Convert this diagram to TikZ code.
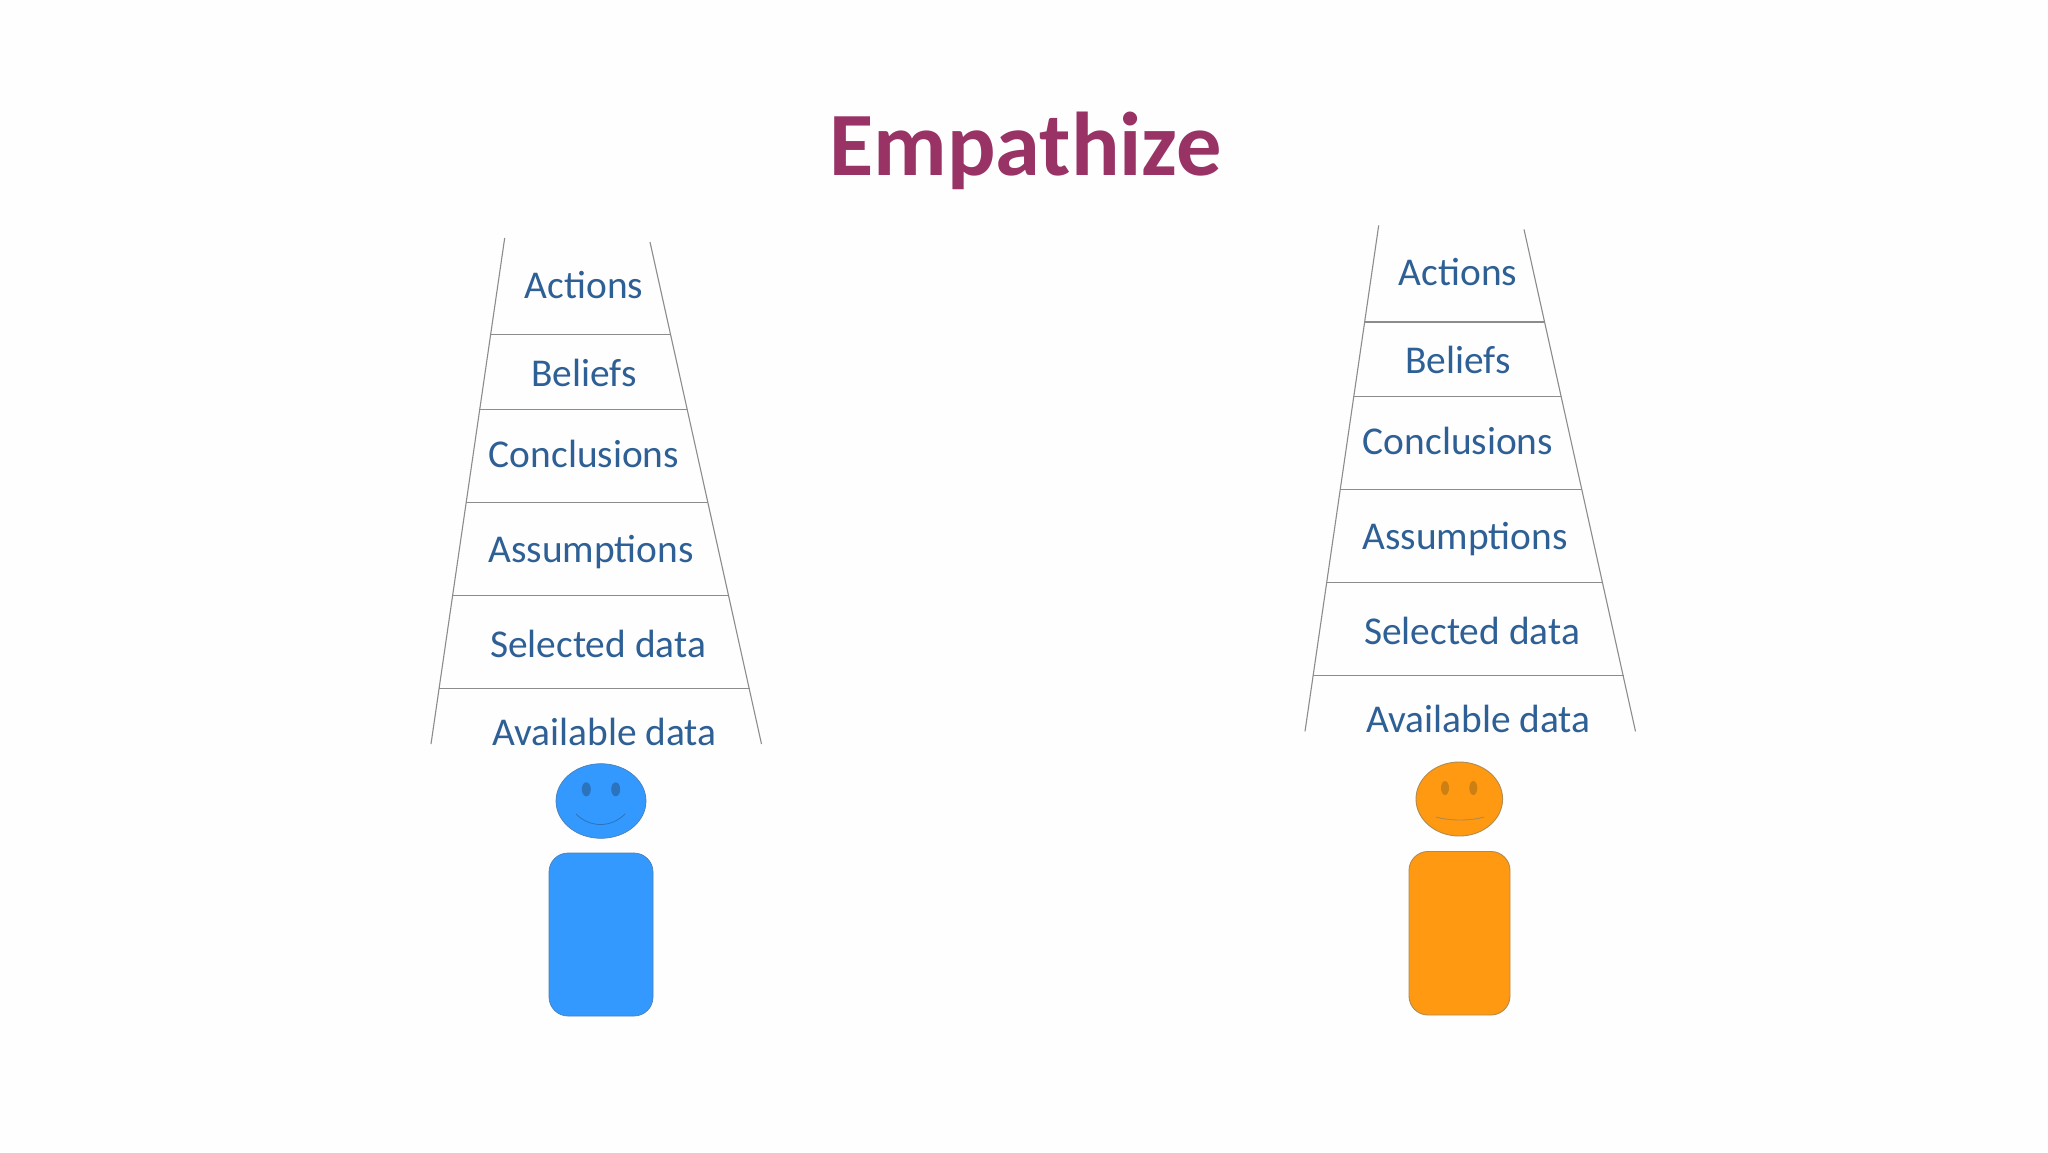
\documentclass[tikz,border=0pt]{standalone}
\usepackage{fontspec}
\setmainfont{Carlito}
\definecolor{titlecol}{HTML}{993366}
\definecolor{labelcol}{HTML}{2E6096}
\definecolor{railcol}{HTML}{8C8C8C}
\definecolor{bluefill}{HTML}{3399FF}
\definecolor{blueeye}{HTML}{2B73BC}
\definecolor{blueedge}{HTML}{4A7FB8}
\definecolor{orangefill}{HTML}{FF9911}
\definecolor{orangeeye}{HTML}{CC8014}
\definecolor{orangeedge}{HTML}{B08A50}
\tikzset{
  rail/.style={draw=railcol,line width=1.1pt},
  steplabel/.style={anchor=base,inner sep=0pt,text=labelcol,font=\fontsize{39.4}{40}\selectfont},
  titletext/.style={anchor=base,inner sep=0pt,text=titlecol,font=\fontsize{90.5}{92}\selectfont\bfseries}
}
\newcommand{\ladderdraw}{%
  \draw[rail] (504.7,238) -- (431,744);
  \draw[rail] (650,242) -- (761.5,744);
  \draw[rail] (490.7,334.6) -- (670.7,334.6);
  \draw[rail] (480,409.4) -- (687,409.4);
  \draw[rail] (466,502.4) -- (707.7,502.4);
  \draw[rail] (452,595.5) -- (729,595.5);
  \draw[rail] (439,688.4) -- (750,688.4);
  \node[steplabel] (actions) at (584,298) {Actions};
  \node[steplabel] (beliefs) at (584,386) {Beliefs};
  \node[steplabel] (conclusions) at (584,467) {Conclusions};
  \node[steplabel] (assumptions) at (591,562.5) {Assumptions};
  \node[steplabel] (selected) at (598,657.5) {Selected data};
  \node[steplabel] (available) at (604.5,745.5) {Available data};
}
\begin{document}
\begin{tikzpicture}[x=1pt,y=-1pt]
\useasboundingbox[fill=white!99.5!black] (0,0) rectangle (2048,1152);
\node[titletext] (title) at (1025.5,175.5) {Empathize};
\begin{scope}
  \ladderdraw
\end{scope}
\begin{scope}[shift={(874,-12.6)}]
  \ladderdraw
\end{scope}
% left person
\draw[draw=blueedge,fill=bluefill,line width=.7pt] (601,801) ellipse [x radius=45,y radius=37.3];
\fill[blueeye] (586.3,789.3) ellipse [x radius=4.5,y radius=7];
\fill[blueeye] (615.7,789.3) ellipse [x radius=4.5,y radius=7];
\draw[blueeye,line width=.8pt] (576,814) .. controls (590,828) and (611,828) .. (625,814);
\draw[draw=blueedge,fill=bluefill,line width=.7pt,rounded corners=19pt] (549,853) rectangle (653,1016);
% right person
\draw[draw=orangeedge,fill=orangefill,line width=.9pt] (1459.3,799) ellipse [x radius=43.3,y radius=37];
\fill[orangeeye] (1445,788) ellipse [x radius=4,y radius=7];
\fill[orangeeye] (1473.3,788) ellipse [x radius=4,y radius=7];
\draw[orangeedge,line width=.9pt] (1436,817) .. controls (1450,821) and (1470,821) .. (1484,817);
\draw[draw=orangeedge,fill=orangefill,line width=.9pt,rounded corners=19pt] (1409,851.5) rectangle (1510,1015);
\end{tikzpicture}
\end{document}
